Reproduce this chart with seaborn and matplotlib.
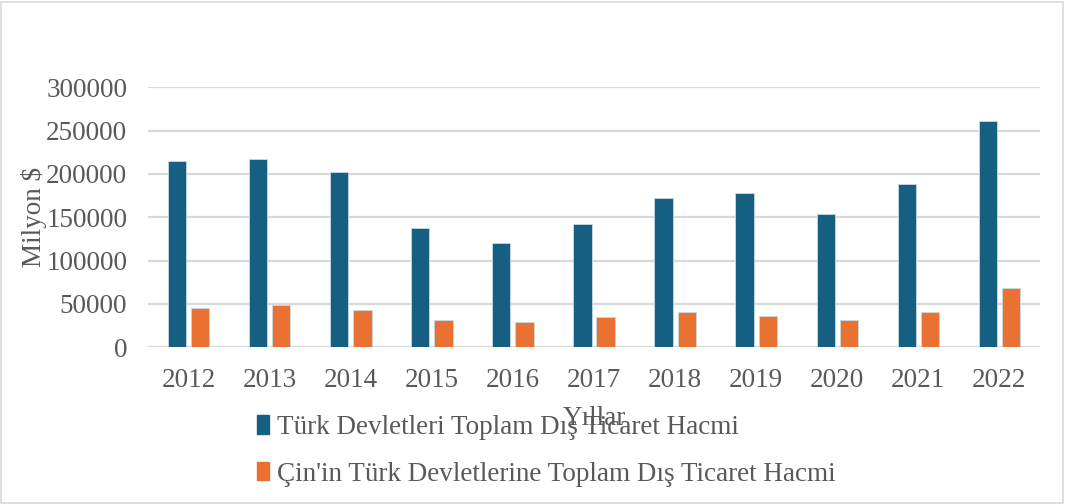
import numpy as np
import pandas as pd
import matplotlib.pyplot as plt
import seaborn as sns
from matplotlib.patches import Rectangle

# data (million $)
years = ["2012", "2013", "2014", "2015", "2016", "2017", "2018", "2019", "2020", "2021", "2022"]
turk_total = [215300, 217600, 201900, 137300, 120000, 142300, 171900, 178000, 153500, 188100, 261500]
china_turk = [45000, 48800, 43000, 31500, 28800, 35300, 40700, 36100, 31500, 40700, 68400]
series_names = ["Türk Devletleri Toplam Dış Ticaret Hacmi",
                "Çin'in Türk Devletlerine Toplam Dış Ticaret Hacmi"]
colors = ["#156082", "#E97132"]
y_ticks = [0, 50000, 100000, 150000, 200000, 250000, 300000]

df = pd.DataFrame({
    "Yıllar": years * 2,
    "value": turk_total + china_turk,
    "seri": [series_names[0]] * len(years) + [series_names[1]] * len(years),
})

sns.set_theme(style="white")
plt.rcParams["font.family"] = ["Liberation Serif", "DejaVu Serif"]
text_color = "#595959"
fs = 19.5

fig = plt.figure(figsize=(10.65, 5.04), dpi=100)
ax = fig.add_axes([0.139, 0.311, 0.8375, 0.5159])

sns.barplot(data=df, x="Yıllar", y="value", hue="seri", palette=colors,
            saturation=1, width=0.572, gap=0.21, edgecolor="#c9d9e3", linewidth=0.6,
            ax=ax, legend=False, zorder=3)

ax.set_ylim(0, 300000)
ax.set_xlim(-0.5, len(years) - 0.5)
ax.set_yticks(y_ticks)
ax.set_yticklabels([str(t) for t in y_ticks])
ax.yaxis.grid(True, color="#d9d9d9", linewidth=1.6, zorder=0)
ax.set_axisbelow(True)
for s in ax.spines.values():
    s.set_visible(False)
ax.tick_params(axis="both", length=0, labelsize=fs, colors=text_color)
ax.tick_params(axis="y", pad=15)
ax.tick_params(axis="x", pad=15)

ax.set_ylabel("Milyon \\$", fontsize=fs, color=text_color, labelpad=-1)
ax.set_xlabel("Yıllar", fontsize=fs, color=text_color, labelpad=9)

handles = [Rectangle((0, 0), 1, 1, color=c) for c in colors]
fig.legend(handles, series_names, loc="upper left", bbox_to_anchor=(0.231, 0.198),
           bbox_transform=fig.transFigure, frameon=False, fontsize=fs,
           labelcolor=text_color, handlelength=0.45, handleheight=0.65,
           handletextpad=0.3, labelspacing=0.8, borderaxespad=0)

# light frame around the whole chart
fig.patches.append(Rectangle((0.001, 0.002), 0.997, 0.995, transform=fig.transFigure,
                             fill=False, edgecolor="#d9d9d9", linewidth=1.2))

fig.savefig("out.png", dpi=100)
